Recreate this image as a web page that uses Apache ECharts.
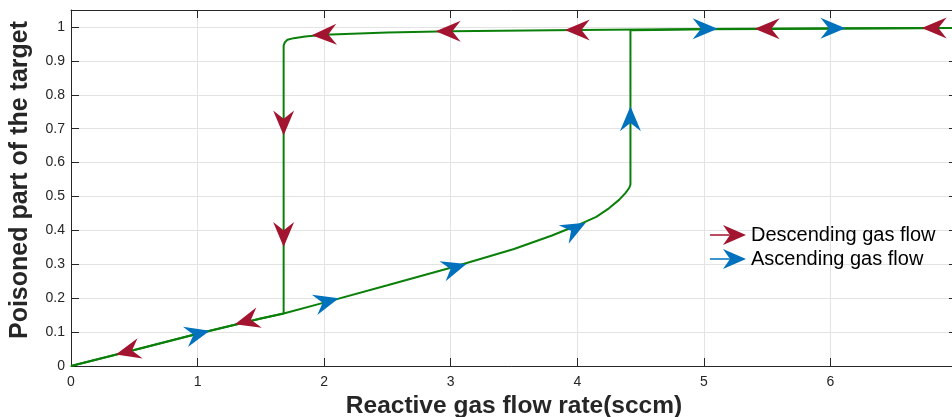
<!DOCTYPE html>
<html>
<head>
<meta charset="utf-8">
<script src="https://cdn.jsdelivr.net/npm/echarts@6/dist/echarts.min.js"></script>
<style>
html,body{margin:0;padding:0;background:#fff;}
#chart{width:952px;height:417px;}
</style>
</head>
<body>
<div id="chart"></div>
<script>
// Ascending branch (lower curve, jump at ~4.42 sccm, then upper plateau)
var ascX = [0, 0.5, 1, 1.5, 1.68, 2, 2.5, 3, 3.5, 3.8, 4, 4.15, 4.25, 4.33, 4.38, 4.41, 4.42, 4.42, 4.6, 5, 6, 7];
var ascY = [0, 0.047, 0.095, 0.14, 0.155, 0.187, 0.238, 0.29, 0.345, 0.385, 0.415, 0.44, 0.465, 0.49, 0.51, 0.525, 0.535, 0.99, 0.991, 0.993, 0.995, 0.997];
// Descending branch (upper plateau, drop at ~1.68 sccm, then lower line)
var descX = [7, 6, 5, 4, 3, 2.5, 2, 1.85, 1.76, 1.71, 1.69, 1.68, 1.68, 1.5, 1, 0.5, 0];
var descY = [0.997, 0.996, 0.994, 0.991, 0.987, 0.984, 0.977, 0.972, 0.967, 0.962, 0.955, 0.945, 0.155, 0.14, 0.095, 0.047, 0];
// Arrow markers
var descArrowX = [6.82, 5.5, 4.0, 2.98, 2.0, 1.68, 1.68, 1.39, 0.45];
var descArrowY = [0.997, 0.995, 0.991, 0.987, 0.977, 0.717, 0.388, 0.133, 0.043];
var ascArrowX = [1.0, 2.02, 3.03, 3.98, 4.42, 5.01, 6.02];
var ascArrowY = [0.095, 0.19, 0.29, 0.405, 0.729, 0.995, 0.996];
// Arrow orientation (style)
var descArrowRot = [90, 90, 90, 90, 92, 180, 180, 105, 104];
var ascArrowRot = [-76, -75, -73, -62, 0, -90, -90];
var legendNames = ['Descending gas flow', 'Ascending gas flow'];
var xTicks = [0, 1, 2, 3, 4, 5, 6, 7];
var yTicks = [0, 0.1, 0.2, 0.3, 0.4, 0.5, 0.6, 0.7, 0.8, 0.9, 1];

function zip(xs, ys) { return xs.map(function (x, i) { return [x, ys[i]]; }); }
function arrows(xs, ys, rots) {
  return xs.map(function (x, i) { return { value: [x, ys[i]], symbolRotate: rots[i] }; });
}
var arrowPath = 'path://M10,0 L20,24 L10,16 L0,24 Z';
var legendIcon = 'path://M0,9.2 L20,9.2 L20,10.8 L0,10.8 Z M36,10 L13,0 L20,10 L13,20 Z';
var RED = '#A2142F', BLUE = '#0072BD', GREEN = '#0A800A', AX = '#262626';
var FONT = '"Liberation Sans", Arial, Helvetica, sans-serif';

var chart = echarts.init(document.getElementById('chart'), null, { renderer: 'canvas' });
chart.setOption({
  animation: false,
  backgroundColor: '#fff',
  grid: { left: 71, top: 10, right: -5, bottom: 51, containLabel: false, outerBoundsMode: 'none' },
  legend: {
    orient: 'vertical', left: 705, top: 220, itemWidth: 36, itemHeight: 20, itemGap: 4,
    data: [{ name: legendNames[0], icon: legendIcon }, { name: legendNames[1], icon: legendIcon }],
    textStyle: { fontFamily: FONT, fontSize: 20, color: '#000', padding: [0, 0, 0, 0] },
    selectedMode: false
  },
  xAxis: [{
    type: 'value', min: xTicks[0], max: xTicks[xTicks.length - 1], interval: 1,
    name: 'Reactive gas flow rate(sccm)', nameLocation: 'middle', nameGap: 21,
    nameTextStyle: { fontFamily: FONT, fontSize: 24.5, fontWeight: 'bold', color: AX },
    axisLine: { show: true, onZero: false, lineStyle: { color: AX, width: 1 } },
    axisTick: { show: true, inside: true, length: 8, lineStyle: { color: AX } },
    axisLabel: { fontFamily: FONT, fontSize: 14, color: AX, margin: 9, showMaxLabel: false },
    splitLine: { show: true, lineStyle: { color: '#e3e3e3', width: 1 } }
  }, {
    type: 'value', position: 'top', min: xTicks[0], max: xTicks[xTicks.length - 1], interval: 1,
    axisLine: { show: true, onZero: false, lineStyle: { color: AX, width: 1 } },
    axisTick: { show: true, inside: true, length: 8, lineStyle: { color: AX } },
    axisLabel: { show: false }, splitLine: { show: false }
  }],
  yAxis: [{
    type: 'value', min: 0, max: 1.05, interval: 0.1,
    name: 'Poisoned part of the target', nameLocation: 'middle', nameGap: 38,
    nameTextStyle: { fontFamily: FONT, fontSize: 25, fontWeight: 'bold', color: AX, padding: [0, 0, 0, 16] },
    axisLine: { show: true, onZero: false, lineStyle: { color: AX, width: 1 } },
    axisTick: { show: true, inside: true, length: 8, lineStyle: { color: AX } },
    axisLabel: { fontFamily: FONT, fontSize: 14, color: AX, margin: 6, showMaxLabel: false,
      formatter: function (v) { return String(Math.round(v * 10) / 10); } },
    splitLine: { show: true, lineStyle: { color: '#e3e3e3', width: 1 } }
  }, {
    type: 'value', position: 'right', min: 0, max: 1.05, interval: 0.1,
    axisLine: { show: true, onZero: false, lineStyle: { color: AX, width: 1 } },
    axisTick: { show: true, inside: true, length: 8, lineStyle: { color: AX } },
    axisLabel: { show: false }, splitLine: { show: false }
  }],
  series: [{
    name: 'ascending-path', type: 'line', data: zip(ascX, ascY), showSymbol: false, symbol: 'none',
    lineStyle: { color: GREEN, width: 2 }, z: 2
  }, {
    name: 'descending-path', type: 'line', data: zip(descX, descY), showSymbol: false, symbol: 'none',
    lineStyle: { color: GREEN, width: 2 }, z: 2
  }, {
    name: legendNames[1], type: 'scatter', data: arrows(ascArrowX, ascArrowY, ascArrowRot),
    symbol: arrowPath, symbolSize: [21, 25], itemStyle: { color: BLUE, opacity: 1 }, z: 4
  }, {
    name: legendNames[0], type: 'scatter', data: arrows(descArrowX, descArrowY, descArrowRot),
    symbol: arrowPath, symbolSize: [21, 25], itemStyle: { color: RED, opacity: 1 }, z: 5
  }]
});
</script>
</body>
</html>
